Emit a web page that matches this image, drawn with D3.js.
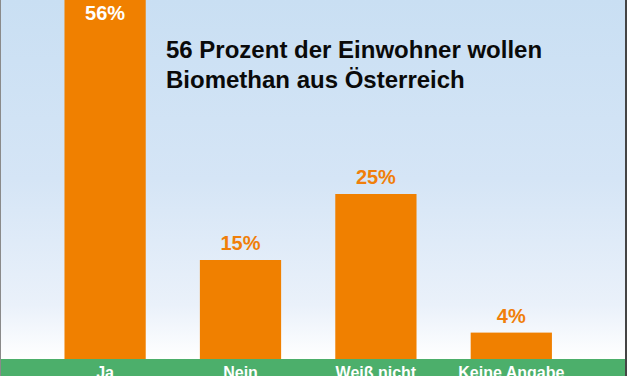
<!DOCTYPE html>
<html>
<head>
<meta charset="utf-8">
<script src="https://cdn.jsdelivr.net/npm/d3@7"></script>
<style>
  html, body { margin: 0; padding: 0; background: #fff; }
  svg { display: block; }
  text { font-family: "Liberation Sans", Arial, sans-serif; font-weight: bold; }
</style>
</head>
<body>
<svg id="chart" width="627" height="376"></svg>
<script>
const categories = ["Ja", "Nein", "Weiß nicht", "Keine Angabe"];
const values = [56, 15, 25, 4];
const valueLabels = ["56%", "15%", "25%", "4%"];
const titleLines = ["56 Prozent der Einwohner wollen", "Biomethan aus Österreich"];

const W = 627, H = 376;
const baseY = 359;
const svg = d3.select("#chart");

const defs = svg.append("defs");
const grad = defs.append("linearGradient").attr("id", "bg")
  .attr("x1", 0).attr("y1", 0).attr("x2", 0).attr("y2", 1);
grad.append("stop").attr("offset", "0%").attr("stop-color", "#c9dff3");
grad.append("stop").attr("offset", "50%").attr("stop-color", "#d5e5f6");
grad.append("stop").attr("offset", "85%").attr("stop-color", "#eaf1fa");
grad.append("stop").attr("offset", "100%").attr("stop-color", "#ffffff");

svg.append("rect").attr("x", 0).attr("y", 0).attr("width", W).attr("height", baseY)
  .attr("fill", "url(#bg)");

const x = d3.scaleBand().domain(categories).range([37.4, 579]).paddingInner(0.4).paddingOuter(0.2);
const y = d3.scaleLinear().domain([0, 50]).range([baseY, baseY - 50 * 6.6]);

const data = categories.map((c, i) => ({ c, v: values[i], l: valueLabels[i] }));

svg.selectAll("rect.bar").data(data).join("rect")
  .attr("class", "bar")
  .attr("x", d => x(d.c))
  .attr("width", x.bandwidth())
  .attr("y", d => y(d.v))
  .attr("height", d => y(0) - y(d.v))
  .attr("fill", "#f08000");

// green band
svg.append("rect").attr("x", 0).attr("y", baseY).attr("width", W).attr("height", H - baseY)
  .attr("fill", "#4caf6b");

// value labels
svg.selectAll("text.val").data(data).join("text")
  .attr("class", "val")
  .attr("x", d => x(d.c) + x.bandwidth() / 2)
  .attr("y", d => y(d.v) < 30 ? 20 : y(d.v) - 10)
  .attr("text-anchor", "middle")
  .attr("font-size", 20)
  .attr("fill", d => y(d.v) < 30 ? "#ffffff" : "#f07f0a")
  .text(d => d.l);

// category labels (axis)
const axis = d3.axisBottom(x).tickSize(0).tickPadding(0);
const gAxis = svg.append("g").attr("transform", `translate(0,${baseY})`).call(axis);
gAxis.select(".domain").remove();
gAxis.selectAll("text")
  .attr("dy", 0).attr("y", 19)
  .attr("fill", "#ffffff")
  .attr("font-size", 16)
  .attr("font-family", "'Liberation Sans', Arial, sans-serif")
  .attr("font-weight", "bold");

// title
svg.append("text")
  .attr("x", 166).attr("y", 58)
  .attr("font-size", 24).attr("fill", "#0a0a0a")
  .selectAll("tspan").data(titleLines).join("tspan")
  .attr("x", 166).attr("y", (d, i) => 58 + i * 30)
  .text(d => d);

// border
svg.append("line").attr("x1", 0.5).attr("x2", 0.5).attr("y1", 0).attr("y2", H)
  .attr("stroke", "#8a8a8a").attr("stroke-width", 1);
svg.append("line").attr("x1", 626).attr("x2", 626).attr("y1", 0).attr("y2", H)
  .attr("stroke", "#444").attr("stroke-width", 2);
</script>
</body>
</html>
